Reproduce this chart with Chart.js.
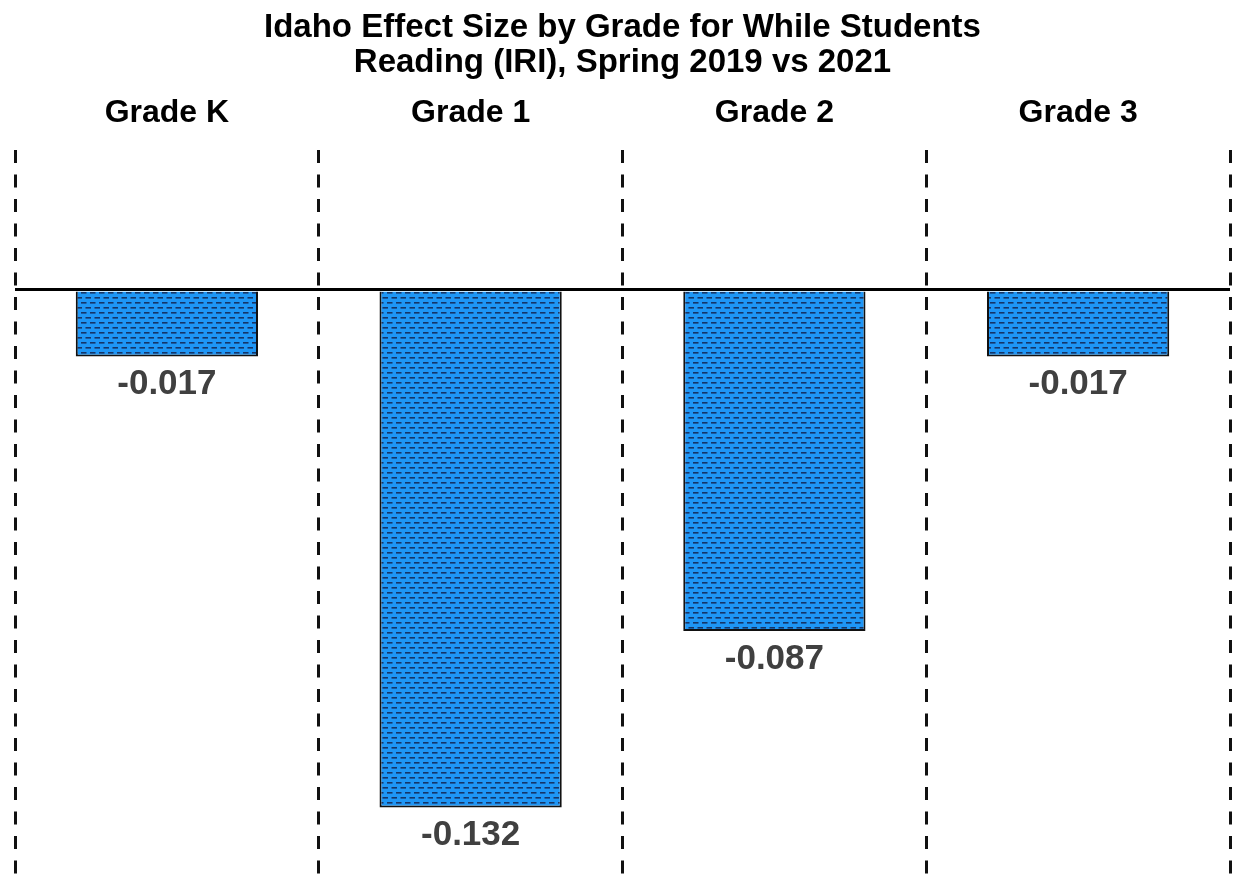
<!DOCTYPE html>
<html>
<head>
<meta charset="utf-8">
<title>Idaho Effect Size by Grade</title>
<script src="https://cdn.jsdelivr.net/npm/chart.js@4.4.1/dist/chart.umd.min.js"></script>
<style>
  html, body { margin: 0; padding: 0; background: #ffffff; }
  #wrap { width: 1233px; height: 880px; }
</style>
</head>
<body>
<div id="wrap"><canvas id="chart" width="1233" height="880"></canvas></div>
<script>
// Effect size (Spring 2019 vs 2021) per grade
const grades = ['Grade K', 'Grade 1', 'Grade 2', 'Grade 3'];
const effectSizes = [-0.017, -0.132, -0.087, -0.017];
const titleLines = ['Idaho Effect Size by Grade for While Students', 'Reading (IRI), Spring 2019 vs 2021'];

const FONT = '"Liberation Sans", Arial, Helvetica, sans-serif';

// Blue fill with staggered rows of short dark dashes
function makeDashPattern() {
  const c = document.createElement('canvas');
  c.width = 9; c.height = 10;
  const g = c.getContext('2d');
  g.fillStyle = '#1e96f6';
  g.fillRect(0, 0, 9, 10);
  g.fillStyle = 'rgba(20, 40, 84, 0.88)';
  g.fillRect(0, 2, 5.5, 1.6);
  g.fillRect(4.5, 7, 4.5, 1.6);
  g.fillRect(0, 7, 1, 1.6);
  return g.createPattern(c, 'repeat');
}

// Value labels drawn under each bar's end
const valueLabels = {
  id: 'valueLabels',
  afterDatasetsDraw(chart) {
    const ctx = chart.ctx;
    const meta = chart.getDatasetMeta(0);
    const data = chart.data.datasets[0].data;
    ctx.save();
    ctx.font = 'bold 35px ' + FONT;
    ctx.fillStyle = '#404040';
    ctx.textAlign = 'center';
    ctx.textBaseline = 'middle';
    meta.data.forEach((bar, i) => {
      ctx.fillText(data[i].toFixed(3), bar.x, bar.y + 28);
    });
    ctx.restore();
  }
};

new Chart(document.getElementById('chart'), {
  type: 'bar',
  data: {
    labels: grades,
    datasets: [{
      data: effectSizes,
      backgroundColor: makeDashPattern(),
      borderColor: '#111111',
      borderWidth: 2,
      borderSkipped: 'start',
      categoryPercentage: 1.0,
      barPercentage: 0.6
    }]
  },
  options: {
    responsive: false,
    animation: false,
    devicePixelRatio: 1,
    layout: { padding: { left: 15, right: 3, top: 0, bottom: 0 } },
    plugins: {
      legend: { display: false },
      tooltip: { enabled: false },
      title: {
        display: true,
        text: titleLines,
        color: '#000000',
        font: { family: FONT, size: 33, weight: 'bold', lineHeight: 35 / 33 },
        padding: { top: 10, bottom: 4 }
      }
    },
    scales: {
      x: {
        position: 'top',
        offset: true,
        grid: {
          offset: true,
          color: '#111111',
          lineWidth: 3,
          drawTicks: false
        },
        border: { display: false, dash: [13, 11.5] },
        ticks: {
          color: '#000000',
          padding: 18,
          font: { family: FONT, size: 32, weight: 'bold' }
        },
        afterFit(scale) { scale.height = 66; }
      },
      y: {
        min: -0.1505,
        max: 0.0357,
        border: { display: false },
        ticks: { display: false },
        grid: {
          drawTicks: false,
          lineWidth: 3,
          color: (ctx) => (ctx.tick && ctx.tick.value === 0 ? '#000000' : 'rgba(0,0,0,0)')
        },
        afterBuildTicks(scale) { scale.ticks = [{ value: 0 }]; },
        afterFit(scale) { scale.width = 0; }
      }
    }
  },
  plugins: [valueLabels]
});
</script>
</body>
</html>
